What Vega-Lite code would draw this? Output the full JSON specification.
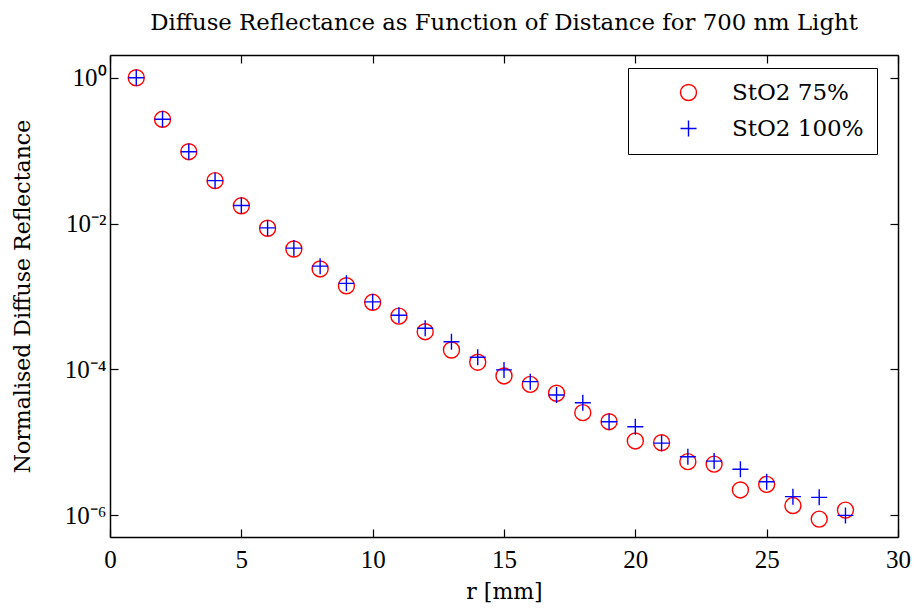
{
  "$schema": "https://vega.github.io/schema/vega-lite/v6.json",
  "width": 788,
  "height": 482,
  "autosize": "none",
  "padding": {"left": 110, "top": 55, "right": 16, "bottom": 73},
  "background": "white",
  "title": {
    "text": "Diffuse Reflectance as Function of Distance for 700 nm Light",
    "font": "DejaVu Serif",
    "fontSize": 22.8,
    "fontWeight": "normal",
    "color": "black",
    "anchor": "middle",
    "offset": 20
  },
  "config": {
    "view": {"stroke": null},
    "axis": {
      "grid": false,
      "domainColor": "black",
      "domainWidth": 1.5,
      "tickColor": "black",
      "tickWidth": 1.2,
      "tickSize": -8,
      "labelFlush": false,
      "labelFont": "Liberation Serif",
      "labelFontSize": 25,
      "labelColor": "black",
      "titleFont": "DejaVu Serif",
      "titleFontSize": 22,
      "titleFontWeight": "normal",
      "titleColor": "black"
    },
    "legend": {
      "labelFont": "DejaVu Serif",
      "labelFontSize": 23,
      "labelColor": "black"
    }
  },
  "data": {
    "values": [
      {"r": 1, "R": 1.0, "s": "StO2 75%"},
      {"r": 2, "R": 0.269, "s": "StO2 75%"},
      {"r": 3, "R": 0.0966, "s": "StO2 75%"},
      {"r": 4, "R": 0.0387, "s": "StO2 75%"},
      {"r": 5, "R": 0.0175, "s": "StO2 75%"},
      {"r": 6, "R": 0.0086, "s": "StO2 75%"},
      {"r": 7, "R": 0.00447, "s": "StO2 75%"},
      {"r": 8, "R": 0.00238, "s": "StO2 75%"},
      {"r": 9, "R": 0.0014, "s": "StO2 75%"},
      {"r": 10, "R": 0.00083, "s": "StO2 75%"},
      {"r": 11, "R": 0.000536, "s": "StO2 75%"},
      {"r": 12, "R": 0.000328, "s": "StO2 75%"},
      {"r": 13, "R": 0.000184, "s": "StO2 75%"},
      {"r": 14, "R": 0.000125, "s": "StO2 75%"},
      {"r": 15, "R": 0.000081, "s": "StO2 75%"},
      {"r": 16, "R": 0.000062, "s": "StO2 75%"},
      {"r": 17, "R": 0.0000469, "s": "StO2 75%"},
      {"r": 18, "R": 0.0000254, "s": "StO2 75%"},
      {"r": 19, "R": 0.0000191, "s": "StO2 75%"},
      {"r": 20, "R": 0.0000104, "s": "StO2 75%"},
      {"r": 21, "R": 0.00000984, "s": "StO2 75%"},
      {"r": 22, "R": 0.0000054, "s": "StO2 75%"},
      {"r": 23, "R": 0.000005, "s": "StO2 75%"},
      {"r": 24, "R": 0.00000221, "s": "StO2 75%"},
      {"r": 25, "R": 0.00000264, "s": "StO2 75%"},
      {"r": 26, "R": 0.00000135, "s": "StO2 75%"},
      {"r": 27, "R": 0.00000088, "s": "StO2 75%"},
      {"r": 28, "R": 0.00000117, "s": "StO2 75%"},
      {"r": 1, "R": 1.0, "s": "StO2 100%"},
      {"r": 2, "R": 0.269, "s": "StO2 100%"},
      {"r": 3, "R": 0.0966, "s": "StO2 100%"},
      {"r": 4, "R": 0.0387, "s": "StO2 100%"},
      {"r": 5, "R": 0.0177, "s": "StO2 100%"},
      {"r": 6, "R": 0.0087, "s": "StO2 100%"},
      {"r": 7, "R": 0.0046, "s": "StO2 100%"},
      {"r": 8, "R": 0.0026, "s": "StO2 100%"},
      {"r": 9, "R": 0.00151, "s": "StO2 100%"},
      {"r": 10, "R": 0.00084, "s": "StO2 100%"},
      {"r": 11, "R": 0.00055, "s": "StO2 100%"},
      {"r": 12, "R": 0.000365, "s": "StO2 100%"},
      {"r": 13, "R": 0.000239, "s": "StO2 100%"},
      {"r": 14, "R": 0.000146, "s": "StO2 100%"},
      {"r": 15, "R": 0.000098, "s": "StO2 100%"},
      {"r": 16, "R": 0.0000676, "s": "StO2 100%"},
      {"r": 17, "R": 0.0000444, "s": "StO2 100%"},
      {"r": 18, "R": 0.0000348, "s": "StO2 100%"},
      {"r": 19, "R": 0.0000191, "s": "StO2 100%"},
      {"r": 20, "R": 0.0000163, "s": "StO2 100%"},
      {"r": 21, "R": 0.0000097, "s": "StO2 100%"},
      {"r": 22, "R": 0.0000063, "s": "StO2 100%"},
      {"r": 23, "R": 0.0000055, "s": "StO2 100%"},
      {"r": 24, "R": 0.00000425, "s": "StO2 100%"},
      {"r": 25, "R": 0.00000287, "s": "StO2 100%"},
      {"r": 26, "R": 0.00000179, "s": "StO2 100%"},
      {"r": 27, "R": 0.00000175, "s": "StO2 100%"},
      {"r": 28, "R": 0.00000099, "s": "StO2 100%"}
    ]
  },
  "layer": [
    {
      "mark": {"type": "point", "filled": false, "strokeWidth": 1.4, "opacity": 1},
      "encoding": {
        "x": {
          "field": "r",
          "type": "quantitative",
          "scale": {"domain": [0, 30], "nice": false, "zero": false},
          "axis": {
            "orient": "bottom",
            "values": [0, 5, 10, 15, 20, 25, 30],
            "title": "r [mm]",
            "labelPadding": 18,
            "titlePadding": 9
          }
        },
        "y": {
          "field": "R",
          "type": "quantitative",
          "scale": {"type": "log", "domain": [5e-7, 2.05], "nice": false},
          "axis": {
            "orient": "left",
            "values": [1, 0.01, 0.0001, 0.000001],
            "labelExpr": "datum.value >= 0.5 ? '10⁰' : datum.value >= 0.005 ? '10⁻²' : datum.value >= 0.00005 ? '10⁻⁴' : '10⁻⁶'",
            "title": "Normalised Diffuse Reflectance",
            "labelPadding": 12,
            "titlePadding": 30
          }
        },
        "color": {
          "field": "s",
          "type": "nominal",
          "scale": {"domain": ["StO2 75%", "StO2 100%"], "range": ["#ff0000", "#0000ff"]},
          "legend": {
            "title": null,
            "orient": "none",
            "legendX": 518,
            "legendY": 13,
            "strokeColor": "black",
            "fillColor": "white",
            "padding": 13,
            "symbolOffset": 36,
            "labelOffset": 32,
            "rowPadding": 12,
            "symbolSize": 256,
            "symbolStrokeWidth": 1.4
          }
        },
        "shape": {
          "field": "s",
          "type": "nominal",
          "scale": {"domain": ["StO2 75%", "StO2 100%"], "range": ["circle", "M-1,0H1M0,-1V1"]},
          "legend": {
            "title": null,
            "orient": "none",
            "legendX": 518,
            "legendY": 13,
            "strokeColor": "black",
            "fillColor": "white",
            "padding": 13,
            "symbolOffset": 36,
            "labelOffset": 32,
            "rowPadding": 12,
            "symbolSize": 256,
            "symbolStrokeWidth": 1.4
          }
        },
        "size": {"value": 256}
      }
    },
    {
      "mark": {"type": "point", "opacity": 0},
      "encoding": {
        "x": {
          "field": "r",
          "type": "quantitative",
          "axis": {"orient": "top", "values": [0, 5, 10, 15, 20, 25, 30], "labels": false, "title": null}
        },
        "y": {
          "field": "R",
          "type": "quantitative",
          "axis": {"orient": "right", "values": [1, 0.01, 0.0001, 0.000001], "labels": false, "title": null}
        }
      }
    }
  ],
  "resolve": {"axis": {"x": "independent", "y": "independent"}}
}
